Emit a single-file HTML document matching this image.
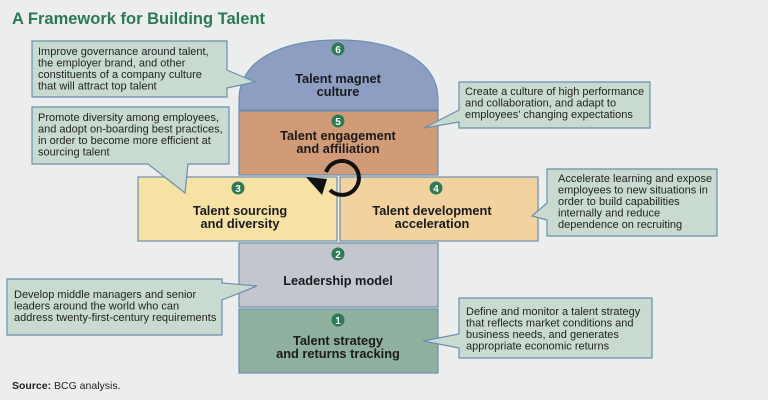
<!DOCTYPE html>
<html><head><meta charset="utf-8"><style>
body{margin:0;background:#eceeed;}
svg{display:block;font-family:"Liberation Sans",sans-serif;}
.c{fill:#c9dad1;stroke:#6a8fae;stroke-width:1.2;}
.t{font-size:11px;fill:#222;}
.b{font-size:12.8px;font-weight:bold;fill:#1a1a1a;text-anchor:middle;}
.n{fill:#2d7a55;}
.nt{fill:#fff;font-size:10px;font-weight:bold;text-anchor:middle;}
.bx{stroke:#6a8fae;stroke-width:1.2;}
</style></head><body>
<svg width="768" height="400" viewBox="0 0 768 400">
<rect width="768" height="400" fill="#eceeed"/>
<text x="12" y="24" font-size="16.5" font-weight="bold" fill="#2a7a55">A Framework for Building Talent</text>

<path class="bx" d="M239,110 L239,100 C239,58 285,40 338,40 C391,40 438,58 438,100 L438,110 Z" fill="#8d9ec2"/>
<rect class="bx" x="239" y="111" width="199" height="64" fill="#d29b78"/>
<rect class="bx" x="138" y="177" width="199" height="64" fill="#f7e2a6"/>
<rect class="bx" x="340" y="177" width="198" height="64" fill="#f2d3a0"/>
<rect class="bx" x="239" y="243" width="199" height="64" fill="#c3c5cf"/>
<rect class="bx" x="239" y="309" width="199" height="64" fill="#8fb09f"/>

<circle class="n" cx="338" cy="49" r="6.5"/><text class="nt" x="338" y="53">6</text>
<circle class="n" cx="338" cy="121" r="6.5"/><text class="nt" x="338" y="125">5</text>
<circle class="n" cx="238" cy="188" r="6.5"/><text class="nt" x="238" y="192">3</text>
<circle class="n" cx="436" cy="188" r="6.5"/><text class="nt" x="436" y="192">4</text>
<circle class="n" cx="338" cy="254" r="6.5"/><text class="nt" x="338" y="258">2</text>
<circle class="n" cx="338" cy="320" r="6.5"/><text class="nt" x="338" y="324">1</text>

<text class="b" x="338" y="83">Talent magnet</text><text class="b" x="338" y="96">culture</text>
<text class="b" x="338" y="140">Talent engagement</text><text class="b" x="338" y="153">and affiliation</text>
<text class="b" x="240" y="215">Talent sourcing</text><text class="b" x="240" y="228">and diversity</text>
<text class="b" x="432" y="215">Talent development</text><text class="b" x="432" y="228">acceleration</text>
<text class="b" x="338" y="285">Leadership model</text>
<text class="b" x="338" y="345">Talent strategy</text><text class="b" x="338" y="358">and returns tracking</text>

<path d="M326,172 A17,17 0 1 1 330,190" fill="none" stroke="#111" stroke-width="4"/>
<polygon points="306,177 327,179 322,195" fill="#111"/>

<path class="c" d="M32,41 H227 V70 L255,82 L227,88 V97 H32 Z"/>
<text class="t"><tspan x="38" y="55">Improve governance around talent,</tspan><tspan x="38" y="66.5">the employer brand, and other</tspan><tspan x="38" y="78">constituents of a company culture</tspan><tspan x="38" y="89.5">that will attract top talent</tspan></text>

<path class="c" d="M32,107 H229 V164 H188 L185,193 L148,164 H32 Z"/>
<text class="t"><tspan x="38" y="121">Promote diversity among employees,</tspan><tspan x="38" y="132.5">and adopt on-boarding best practices,</tspan><tspan x="38" y="144">in order to become more efficient at</tspan><tspan x="38" y="155.5">sourcing talent</tspan></text>

<path class="c" d="M459,82 H650 V128 H459 V122 L424,128 L459,110 Z"/>
<text class="t"><tspan x="465" y="95">Create a culture of high performance</tspan><tspan x="465" y="106.5">and collaboration, and adapt to</tspan><tspan x="465" y="118">employees' changing expectations</tspan></text>

<path class="c" d="M547,169 H717 V236 H547 V220 L532,216 L547,203 Z"/>
<text class="t"><tspan x="558" y="182">Accelerate learning and expose</tspan><tspan x="558" y="193.5">employees to new situations in</tspan><tspan x="558" y="205">order to build capabilities</tspan><tspan x="558" y="216.5">internally  and reduce</tspan><tspan x="558" y="228">dependence on recruiting</tspan></text>

<path class="c" d="M7,279 H222 V283 L257,286 L222,300 V335 H7 Z"/>
<text class="t"><tspan x="14" y="298">Develop middle managers and senior</tspan><tspan x="14" y="309.5">leaders around the world who can</tspan><tspan x="14" y="321">address twenty-first-century requirements</tspan></text>

<path class="c" d="M459,298 H652 V358 H459 V348 L423,341 L459,334 Z"/>
<text class="t"><tspan x="466" y="315">Define and monitor a talent strategy</tspan><tspan x="466" y="326.5">that reflects market conditions and</tspan><tspan x="466" y="338">business needs, and generates</tspan><tspan x="466" y="349.5">appropriate economic returns</tspan></text>

<text x="12" y="389" font-size="10.5" fill="#222"><tspan font-weight="bold">Source:</tspan> BCG analysis.</text>
</svg>
</body></html>
